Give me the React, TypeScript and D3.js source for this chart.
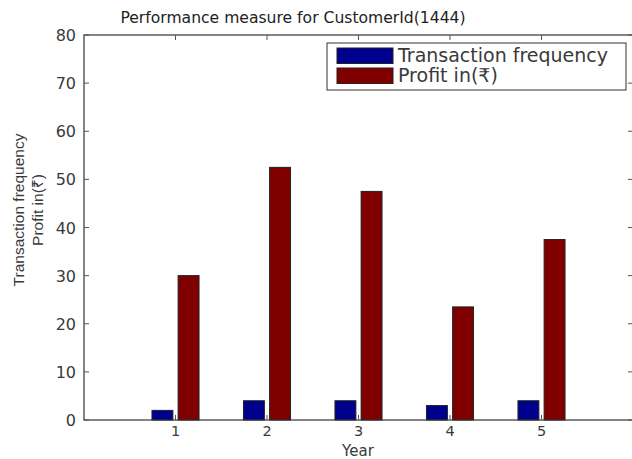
import React from "react";
import * as d3 from "d3";

const years = [1, 2, 3, 4, 5];
const transactionFrequency = [2, 4, 4, 3, 4];
const profit = [30, 52.5, 47.5, 23.5, 37.5];
const seriesNames = ["Transaction frequency", "Profit in(₹)"];
const seriesColors = ["#00008f", "#800000"];
const yTicks = [0, 10, 20, 30, 40, 50, 60, 70, 80];

const W = 632;
const H = 459;
const M = { left: 84, right: 633, top: 35, bottom: 420 };
const FONT = "'DejaVu Sans', 'Noto Sans', sans-serif";
const LABEL_FONT = "'Liberation Sans', 'Noto Sans', sans-serif";
const TEXT = "#3a3a3a";

export default function App() {
  const x = d3.scaleLinear().domain([0, 6]).range([M.left, M.right]);
  const y = d3.scaleLinear().domain([0, 80]).range([M.bottom, M.top]);

  // grouped bar layout for two series
  const nSeries = 2;
  const groupWidth = Math.min(0.8, nSeries / (nSeries + 1.5));
  const step = groupWidth / nSeries;
  const barW = step * 0.8;
  const series = [transactionFrequency, profit];
  const tickLen = 5;

  return (
    <svg
      width={W}
      height={H}
      style={{ position: "absolute", left: 0, top: 0, background: "#fff" }}
      fontFamily={FONT}
    >
      <text x={293} y={23} textAnchor="middle" fontSize={15.6} fill="#222">
        Performance measure for CustomerId(1444)
      </text>

      {/* bars */}
      {series.map((vals, s) =>
        vals.map((v, i) => {
          const cx = years[i] - groupWidth / 2 + step * (s + 0.5);
          const x0 = x(cx - barW / 2);
          const x1 = x(cx + barW / 2);
          return (
            <rect
              key={`${s}-${i}`}
              x={x0}
              y={y(v)}
              width={x1 - x0}
              height={y(0) - y(v)}
              fill={seriesColors[s]}
              stroke="#222"
              strokeWidth={1}
            />
          );
        })
      )}

      {/* axes box */}
      <rect
        x={M.left}
        y={M.top}
        width={M.right - M.left}
        height={M.bottom - M.top}
        fill="none"
        stroke="#333"
        strokeWidth={1.2}
      />

      {/* x ticks */}
      {years.map((t) => (
        <g key={`xt${t}`} stroke="#555" strokeWidth={1}>
          <line x1={x(t)} x2={x(t)} y1={M.bottom} y2={M.bottom - tickLen} />
          <line x1={x(t)} x2={x(t)} y1={M.top} y2={M.top + tickLen} />
        </g>
      ))}
      {years.map((t) => (
        <text key={`xl${t}`} x={x(t)} y={436} textAnchor="middle" fontSize={14.5} fill={TEXT}>
          {t}
        </text>
      ))}

      {/* y ticks */}
      {yTicks.map((t) => (
        <g key={`yt${t}`} stroke="#555" strokeWidth={1}>
          <line x1={M.left} x2={M.left + tickLen} y1={y(t)} y2={y(t)} />
          <line x1={M.right} x2={M.right - tickLen} y1={y(t)} y2={y(t)} />
        </g>
      ))}
      {yTicks.map((t) => (
        <text key={`yl${t}`} x={76} y={y(t) + 6} textAnchor="end" fontSize={16} fill={TEXT}>
          {t}
        </text>
      ))}

      {/* axis labels */}
      <text x={358} y={456} textAnchor="middle" fontSize={15} fill={TEXT}>
        Year
      </text>
      <g transform="translate(0,210) rotate(-90)" fontFamily={LABEL_FONT}>
        <text x={0} y={24} textAnchor="middle" fontSize={15.5} fill={TEXT}>
          {seriesNames[0]}
        </text>
        <text x={0} y={43} textAnchor="middle" fontSize={15.5} fill={TEXT}>
          {seriesNames[1]}
        </text>
      </g>

      {/* legend */}
      <rect x={327} y={43} width={299} height={47} fill="#fff" stroke="#333" strokeWidth={1} />
      {seriesNames.map((name, s) => (
        <g key={`lg${s}`}>
          <rect
            x={337}
            y={48 + s * 20}
            width={56}
            height={15.5}
            fill={seriesColors[s]}
            stroke="#222"
            strokeWidth={1}
          />
          <text x={398} y={62 + s * 20} fontSize={19} fill={TEXT}>
            {name}
          </text>
        </g>
      ))}
    </svg>
  );
}
